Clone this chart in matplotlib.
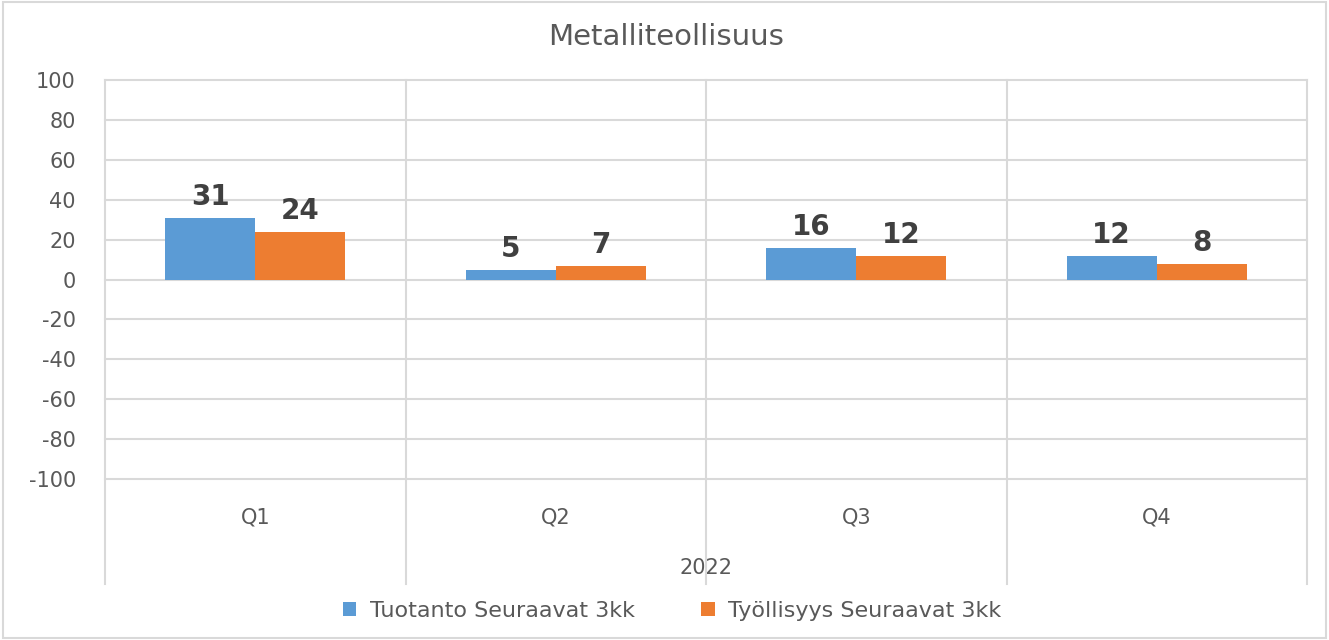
import matplotlib.pyplot as plt
import numpy as np

#----------------------------------------------------------
# Data
#----------------------------------------------------------
quarters = ["Q1", "Q2", "Q3", "Q4"]
year_label = "2022"
tuotanto = [31, 5, 16, 12]
tyollisyys = [24, 7, 12, 8]
series_names = ["Tuotanto Seuraavat 3kk", "Työllisyys Seuraavat 3kk"]
title = "Metalliteollisuus"

BLUE = "#5B9BD5"
ORANGE = "#ED7D31"
GRID = "#D9D9D9"
TEXT = "#595959"

plt.rcParams['font.family'] = ['DejaVu Sans']
plt.rcParams['axes.unicode_minus'] = False

W, H = 1329, 640
fig = plt.figure(figsize=(W / 100, H / 100), dpi=100)

# plot area in pixels
left, right, top, bottom = 105, 1307, 80, 479
ax = fig.add_axes([left / W, 1 - bottom / H, (right - left) / W, (bottom - top) / H])

x = np.arange(len(quarters)) + 0.5
bw = 0.3
b1 = ax.bar(x - bw / 2, tuotanto, bw, color=BLUE, label=series_names[0], zorder=3)
b2 = ax.bar(x + bw / 2, tyollisyys, bw, color=ORANGE, label=series_names[1], zorder=3)

for bars in (b1, b2):
    ax.bar_label(bars, padding=5, fontsize=20, fontweight='bold', color="#404040")

ax.set_xlim(0, len(quarters))
ax.set_ylim(-100, 100)
ax.set_yticks(range(-100, 101, 20))
ax.yaxis.grid(True, color=GRID, linewidth=1.5, zorder=0)
for gl in ax.get_ygridlines():
    gl.set_clip_on(False)
ax.tick_params(axis='y', length=0, labelsize=15, labelcolor=TEXT, pad=21)
ax.set_xticks([])
for s in ax.spines.values():
    s.set_visible(False)

# category separators extending down through the label rows
ext = (584 - bottom) / (bottom - top)
for i in range(len(quarters) + 1):
    ax.axvline(i, ymin=-ext, ymax=1, color=GRID, linewidth=1.5, clip_on=False, zorder=1)

# category and year labels
q_y = -(517 - bottom) / (bottom - top)
y_y = -(568 - bottom) / (bottom - top)
for xi, q in zip(x, quarters):
    ax.text(xi, q_y, q, transform=ax.get_xaxis_transform(), ha='center', va='center',
            fontsize=15, color=TEXT)
ax.text(len(quarters) / 2, y_y, year_label, transform=ax.get_xaxis_transform(),
        ha='center', va='center', fontsize=15, color=TEXT)

fig.text(666 / W, 1 - 37 / H, title, ha='center', va='center', fontsize=21, color=TEXT)

fig.legend(loc='center', bbox_to_anchor=(672 / W, 1 - 611 / H), ncol=2, frameon=False,
           fontsize=16, labelcolor=TEXT, handlelength=0.6, handleheight=0.6,
           columnspacing=3.0, handletextpad=0.6)

# outer border
fig.patches.append(plt.Rectangle((0.002, 0.003), 0.996, 0.994, transform=fig.transFigure,
                                 fill=False, edgecolor=GRID, linewidth=1.5))

fig.savefig("out.png", dpi=100)
